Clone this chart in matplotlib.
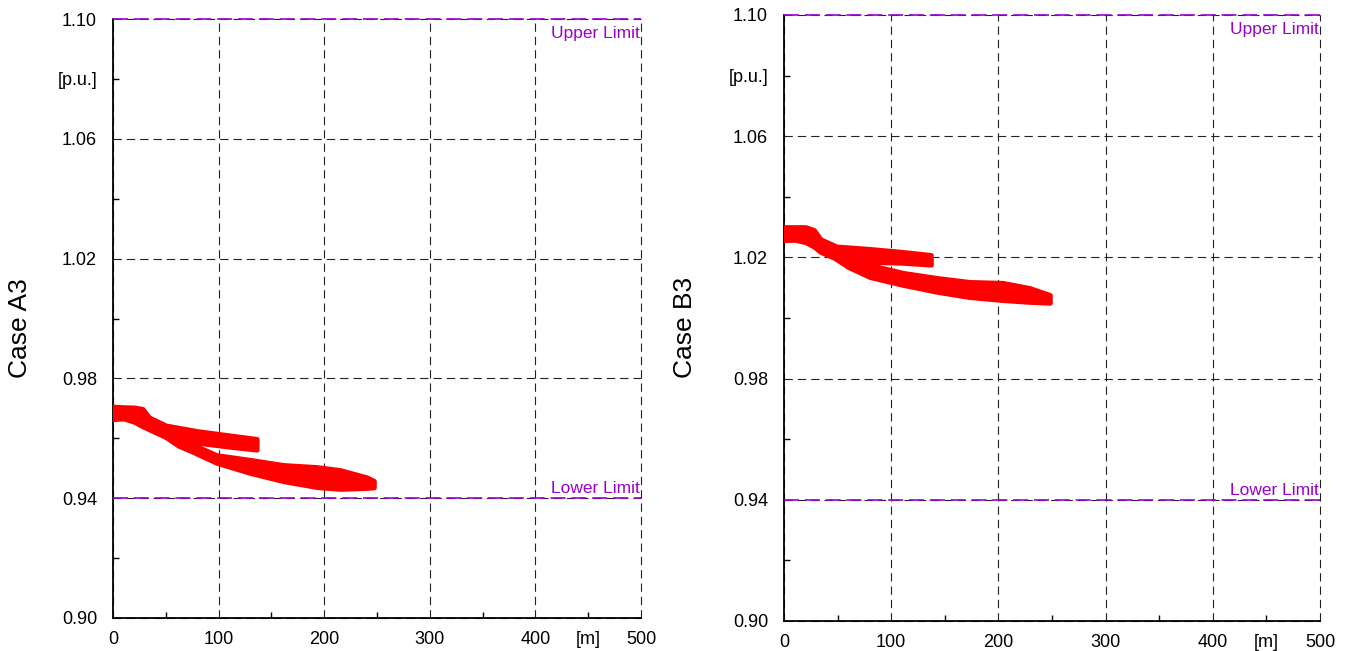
import matplotlib
matplotlib.use('Agg')
import matplotlib.pyplot as plt

plt.rcParams['font.family'] = ['Liberation Sans', 'DejaVu Sans']

# voltage band along the feeder (distance [m], band low / band high [p.u.])
# case A3 - first branch (flat start + upper trace)
a3_up_x = [0, 10, 20, 28, 34, 50, 80, 110, 136]
a3_up_lo = [0.9664, 0.9666, 0.9655, 0.9640, 0.9630, 0.9604, 0.9585, 0.9572, 0.9562]
a3_up_hi = [0.9706, 0.9704, 0.9703, 0.9698, 0.9670, 0.9643, 0.9624, 0.9610, 0.9598]
# case A3 - second branch (lower trace)
a3_lo_x = [50, 62, 76, 98, 130, 161, 193, 215, 240, 247]
a3_lo_lo = [0.9604, 0.9575, 0.9554, 0.9518, 0.9484, 0.9457, 0.9437, 0.9431, 0.9434, 0.9436]
a3_lo_hi = [0.9630, 0.9600, 0.9578, 0.9544, 0.9528, 0.9511, 0.9504, 0.9494, 0.9470, 0.9458]

# case B3
b3_up_x = [0, 10, 20, 28, 34, 49, 80, 111, 137]
b3_up_lo = [1.0257, 1.0258, 1.0250, 1.0235, 1.0218, 1.0195, 1.0185, 1.0182, 1.0176]
b3_up_hi = [1.0300, 1.0300, 1.0300, 1.0290, 1.0260, 1.0236, 1.0228, 1.0218, 1.0208]
b3_lo_x = [48, 60, 80, 111, 143, 173, 204, 229, 248]
b3_lo_lo = [1.0196, 1.0168, 1.0135, 1.0109, 1.0086, 1.0069, 1.0059, 1.0053, 1.0050]
b3_lo_hi = [1.0225, 1.0198, 1.0175, 1.0149, 1.0132, 1.0119, 1.0116, 1.0099, 1.0076]

upper_limit = 1.10
lower_limit = 0.94

y_major = [0.90, 0.94, 0.98, 1.02, 1.06, 1.10]
y_minor = [0.92, 0.96, 1.00, 1.04, 1.08]
y_minor_labels = ['', '', '', '', '[p.u.]']
x_major = [0, 100, 200, 300, 400, 500]
x_minor = [50, 150, 250, 350, 450]
x_minor_labels = ['', '', '', '', '[m]']

purple = '#9900CC'


def panel(ax, label, branches, label_x):
    for x, lo, hi in branches:
        ax.fill_between(x, lo, hi, color='red', edgecolor='red', lw=3.5, joinstyle='round',
                        capstyle='round', zorder=3)

    ax.set_xlim(0, 500)
    ax.set_ylim(0.90, 1.10)
    ax.set_xticks(x_major, labels=[str(v) for v in x_major])
    ax.set_xticks(x_minor, labels=x_minor_labels, minor=True)
    ax.set_yticks(y_major, labels=['%.2f' % v for v in y_major])
    ax.set_yticks(y_minor, labels=y_minor_labels, minor=True)
    ax.tick_params(which='both', direction='in', labelsize=13, width=1)
    ax.tick_params(axis='y', which='both', pad=11.5)
    ax.tick_params(axis='x', which='both', pad=9.5)
    ax.tick_params(which='major', length=0)
    ax.tick_params(which='minor', length=4.5)

    ax.grid(True, which='major', color='#222222', lw=0.8, ls=(0, (7.5, 4.5)))
    for g in ax.get_xgridlines() + ax.get_ygridlines():
        g.set_clip_on(False)

    for s in ['top', 'right']:
        ax.spines[s].set_visible(False)
    for s in ['left', 'bottom']:
        ax.spines[s].set_linewidth(1.3)

    ax.axhline(upper_limit, color=purple, lw=1.2, ls=(0, (9, 3.5)), clip_on=False, zorder=4)
    ax.axhline(lower_limit, color=purple, lw=1.2, ls=(0, (9, 3.5)), clip_on=False, zorder=4)
    ax.annotate('Upper Limit', (500, upper_limit), xytext=(-1, -5), textcoords='offset points',
                ha='right', va='top', color=purple, fontsize=12.5)
    ax.annotate('Lower Limit', (500, lower_limit), xytext=(-1, 3.5), textcoords='offset points',
                ha='right', va='baseline', color=purple, fontsize=12.5)

    ax.set_ylabel(label, fontsize=19)
    ax.yaxis.set_label_coords(label_x, 0.484)


fig = plt.figure(figsize=(13.49, 6.51), dpi=100)
ax1 = fig.add_axes([0.0838, 0.0507, 0.3914, 0.9201])
ax2 = fig.add_axes([0.5812, 0.0461, 0.3973, 0.9309])

panel(ax1, 'Case A3', [(a3_up_x, a3_up_lo, a3_up_hi), (a3_lo_x, a3_lo_lo, a3_lo_hi)], -0.153)
panel(ax2, 'Case B3', [(b3_up_x, b3_up_lo, b3_up_hi), (b3_lo_x, b3_lo_lo, b3_lo_hi)], -0.162)

fig.savefig('out.png', dpi=100)
